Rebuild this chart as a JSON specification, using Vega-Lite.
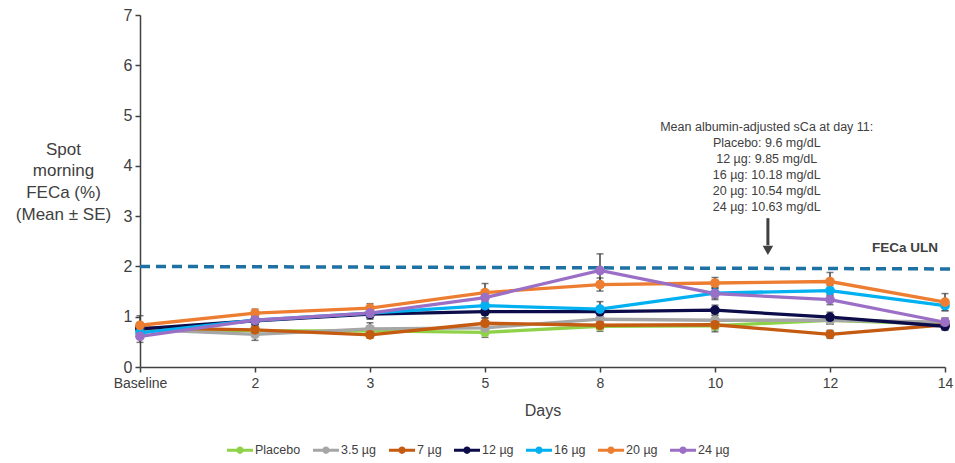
{
  "$schema": "https://vega.github.io/schema/vega-lite/v6.json",
  "width": 805,
  "height": 352,
  "autosize": "none",
  "padding": {"left": 140, "top": 15, "right": 10, "bottom": 96},
  "background": "white",
  "config": {
    "font": "Liberation Sans",
    "view": {"stroke": null},
    "axis": {"grid": false, "domainColor": "#404040", "domainWidth": 1.5, "tickColor": "#404040", "tickWidth": 1.5, "tickSize": 5, "labelColor": "#404040", "titleColor": "#404040", "titleFontWeight": "normal"}
  },
  "datasets": {
    "series": [
      {"group": "Placebo", "pos": 0, "value": 0.75, "se": 0.1},
      {"group": "Placebo", "pos": 1, "value": 0.72, "se": 0.08},
      {"group": "Placebo", "pos": 2, "value": 0.72, "se": 0.08},
      {"group": "Placebo", "pos": 3, "value": 0.69, "se": 0.1},
      {"group": "Placebo", "pos": 4, "value": 0.81, "se": 0.1},
      {"group": "Placebo", "pos": 5, "value": 0.82, "se": 0.12},
      {"group": "Placebo", "pos": 6, "value": 0.93, "se": 0.08},
      {"group": "Placebo", "pos": 7, "value": 0.85, "se": 0.08},
      {"group": "3.5 µg", "pos": 0, "value": 0.75, "se": 0.1},
      {"group": "3.5 µg", "pos": 1, "value": 0.65, "se": 0.12},
      {"group": "3.5 µg", "pos": 2, "value": 0.76, "se": 0.12},
      {"group": "3.5 µg", "pos": 3, "value": 0.78, "se": 0.08},
      {"group": "3.5 µg", "pos": 4, "value": 0.95, "se": 0.1},
      {"group": "3.5 µg", "pos": 5, "value": 0.93, "se": 0.1},
      {"group": "3.5 µg", "pos": 6, "value": 0.93, "se": 0.08},
      {"group": "3.5 µg", "pos": 7, "value": 0.89, "se": 0.08},
      {"group": "7 µg", "pos": 0, "value": 0.78, "se": 0.1},
      {"group": "7 µg", "pos": 1, "value": 0.74, "se": 0.08},
      {"group": "7 µg", "pos": 2, "value": 0.64, "se": 0.06},
      {"group": "7 µg", "pos": 3, "value": 0.87, "se": 0.1},
      {"group": "7 µg", "pos": 4, "value": 0.83, "se": 0.08},
      {"group": "7 µg", "pos": 5, "value": 0.84, "se": 0.1},
      {"group": "7 µg", "pos": 6, "value": 0.65, "se": 0.08},
      {"group": "7 µg", "pos": 7, "value": 0.84, "se": 0.08},
      {"group": "12 µg", "pos": 0, "value": 0.76, "se": 0.1},
      {"group": "12 µg", "pos": 1, "value": 0.92, "se": 0.08},
      {"group": "12 µg", "pos": 2, "value": 1.05, "se": 0.1},
      {"group": "12 µg", "pos": 3, "value": 1.1, "se": 0.12},
      {"group": "12 µg", "pos": 4, "value": 1.1, "se": 0.1},
      {"group": "12 µg", "pos": 5, "value": 1.13, "se": 0.1},
      {"group": "12 µg", "pos": 6, "value": 0.99, "se": 0.1},
      {"group": "12 µg", "pos": 7, "value": 0.81, "se": 0.08},
      {"group": "16 µg", "pos": 0, "value": 0.68, "se": 0.1},
      {"group": "16 µg", "pos": 1, "value": 0.93, "se": 0.08},
      {"group": "16 µg", "pos": 2, "value": 1.07, "se": 0.08},
      {"group": "16 µg", "pos": 3, "value": 1.22, "se": 0.1},
      {"group": "16 µg", "pos": 4, "value": 1.15, "se": 0.15},
      {"group": "16 µg", "pos": 5, "value": 1.47, "se": 0.1},
      {"group": "16 µg", "pos": 6, "value": 1.52, "se": 0.1},
      {"group": "16 µg", "pos": 7, "value": 1.22, "se": 0.1},
      {"group": "20 µg", "pos": 0, "value": 0.83, "se": 0.19},
      {"group": "20 µg", "pos": 1, "value": 1.07, "se": 0.08},
      {"group": "20 µg", "pos": 2, "value": 1.17, "se": 0.09},
      {"group": "20 µg", "pos": 3, "value": 1.48, "se": 0.18},
      {"group": "20 µg", "pos": 4, "value": 1.64, "se": 0.13},
      {"group": "20 µg", "pos": 5, "value": 1.67, "se": 0.11},
      {"group": "20 µg", "pos": 6, "value": 1.7, "se": 0.18},
      {"group": "20 µg", "pos": 7, "value": 1.29, "se": 0.17},
      {"group": "24 µg", "pos": 0, "value": 0.61, "se": 0.12},
      {"group": "24 µg", "pos": 1, "value": 0.93, "se": 0.08},
      {"group": "24 µg", "pos": 2, "value": 1.07, "se": 0.1},
      {"group": "24 µg", "pos": 3, "value": 1.38, "se": 0.15},
      {"group": "24 µg", "pos": 4, "value": 1.92, "se": 0.33},
      {"group": "24 µg", "pos": 5, "value": 1.46, "se": 0.12},
      {"group": "24 µg", "pos": 6, "value": 1.34, "se": 0.1},
      {"group": "24 µg", "pos": 7, "value": 0.89, "se": 0.08}
    ],
    "uln": [{"pos": 0, "value": 2.0}, {"pos": 7.08, "value": 1.95}]
  },
  "encoding": {
    "x": {
      "field": "pos", "type": "quantitative",
      "scale": {"domain": [0, 7], "nice": false, "zero": false},
      "axis": {"values": [0, 1, 2, 3, 4, 5, 6, 7], "labelExpr": "['Baseline','2','3','5','8','10','12','14'][datum.value]", "labelFontSize": 14, "labelPadding": 4, "title": "Days", "titleFontSize": 16, "titlePadding": 12, "labelFlush": false}
    },
    "y": {
      "field": "value", "type": "quantitative",
      "scale": {"domain": [0, 7], "nice": false},
      "axis": {"values": [0, 1, 2, 3, 4, 5, 6, 7], "labelFontSize": 16, "labelPadding": 3, "title": ["Spot", "morning", "FECa (%)", "(Mean ± SE)"], "titleAngle": 0, "titleAlign": "center", "titleBaseline": "top", "titleX": -77, "titleY": 126, "titleFontSize": 17, "titleLineHeight": 21.7}
    }
  },
  "layer": [
    {
      "data": {"name": "uln"},
      "mark": {"type": "line", "color": "#1f70a3", "strokeWidth": 3.5, "strokeDash": [10, 6], "clip": false},
      "encoding": {}
    },
    {
      "data": {"name": "series"},
      "mark": {"type": "errorbar", "ticks": {"size": 7, "color": "#404040", "thickness": 1.5}, "color": "#404040", "thickness": 1.5},
      "encoding": {"yError": {"field": "se"}, "detail": {"field": "group"}}
    },
    {
      "data": {"name": "series"},
      "mark": {"type": "line", "strokeWidth": 3.3},
      "encoding": {
        "color": {
          "field": "group", "type": "nominal",
          "scale": {"domain": ["Placebo", "3.5 µg", "7 µg", "12 µg", "16 µg", "20 µg", "24 µg"], "range": ["#8fd24a", "#a6a6a6", "#c55a11", "#0c0c4a", "#00b0f0", "#ed7d31", "#9b6fc6"]},
          "legend": {"orient": "none", "legendX": 87, "legendY": 422, "direction": "horizontal", "columns": 7, "title": null, "symbolType": "M-1,-0.12H1V0.12H-1Z M0.28,0A0.28,0.28 0 1,1 -0.28,0A0.28,0.28 0 1,1 0.28,0Z", "symbolSize": 676, "symbolStrokeWidth": 0, "labelOffset": 2, "columnPadding": 12, "labelFontSize": 12.5, "labelColor": "#404040", "padding": 0}
        }
      }
    },
    {
      "data": {"name": "series"},
      "mark": {"type": "point", "filled": true, "size": 95, "opacity": 1},
      "encoding": {
        "color": {"field": "group", "type": "nominal"}
      }
    },
    {
      "data": {"values": [{"pos": 5.45, "value": 4.89, "label": "Mean albumin-adjusted  sCa at day 11:\nPlacebo: 9.6 mg/dL\n12 µg: 9.85 mg/dL\n16 µg: 10.18 mg/dL\n20 µg: 10.54 mg/dL\n24 µg: 10.63 mg/dL"}]},
      "mark": {"type": "text", "align": "center", "baseline": "top", "fontSize": 12.5, "lineHeight": 16, "lineBreak": "\n", "color": "#404040"},
      "encoding": {"text": {"field": "label"}}
    },
    {
      "data": {"values": [{"pos": 7, "value": 2.36, "label": "FECa ULN"}]},
      "mark": {"type": "text", "align": "right", "baseline": "middle", "dx": -7, "fontSize": 13.5, "fontWeight": "bold", "color": "#404040"},
      "encoding": {"text": {"field": "label"}}
    },
    {
      "data": {"values": [{"pos": 5.46, "value": 2.96, "end": 2.42}]},
      "mark": {"type": "rule", "strokeWidth": 3, "color": "#404040"},
      "encoding": {"y2": {"field": "end"}}
    },
    {
      "data": {"values": [{"pos": 5.46, "value": 2.32}]},
      "mark": {"type": "point", "shape": "triangle-down", "filled": true, "size": 110, "color": "#404040", "opacity": 1}
    }
  ]
}
